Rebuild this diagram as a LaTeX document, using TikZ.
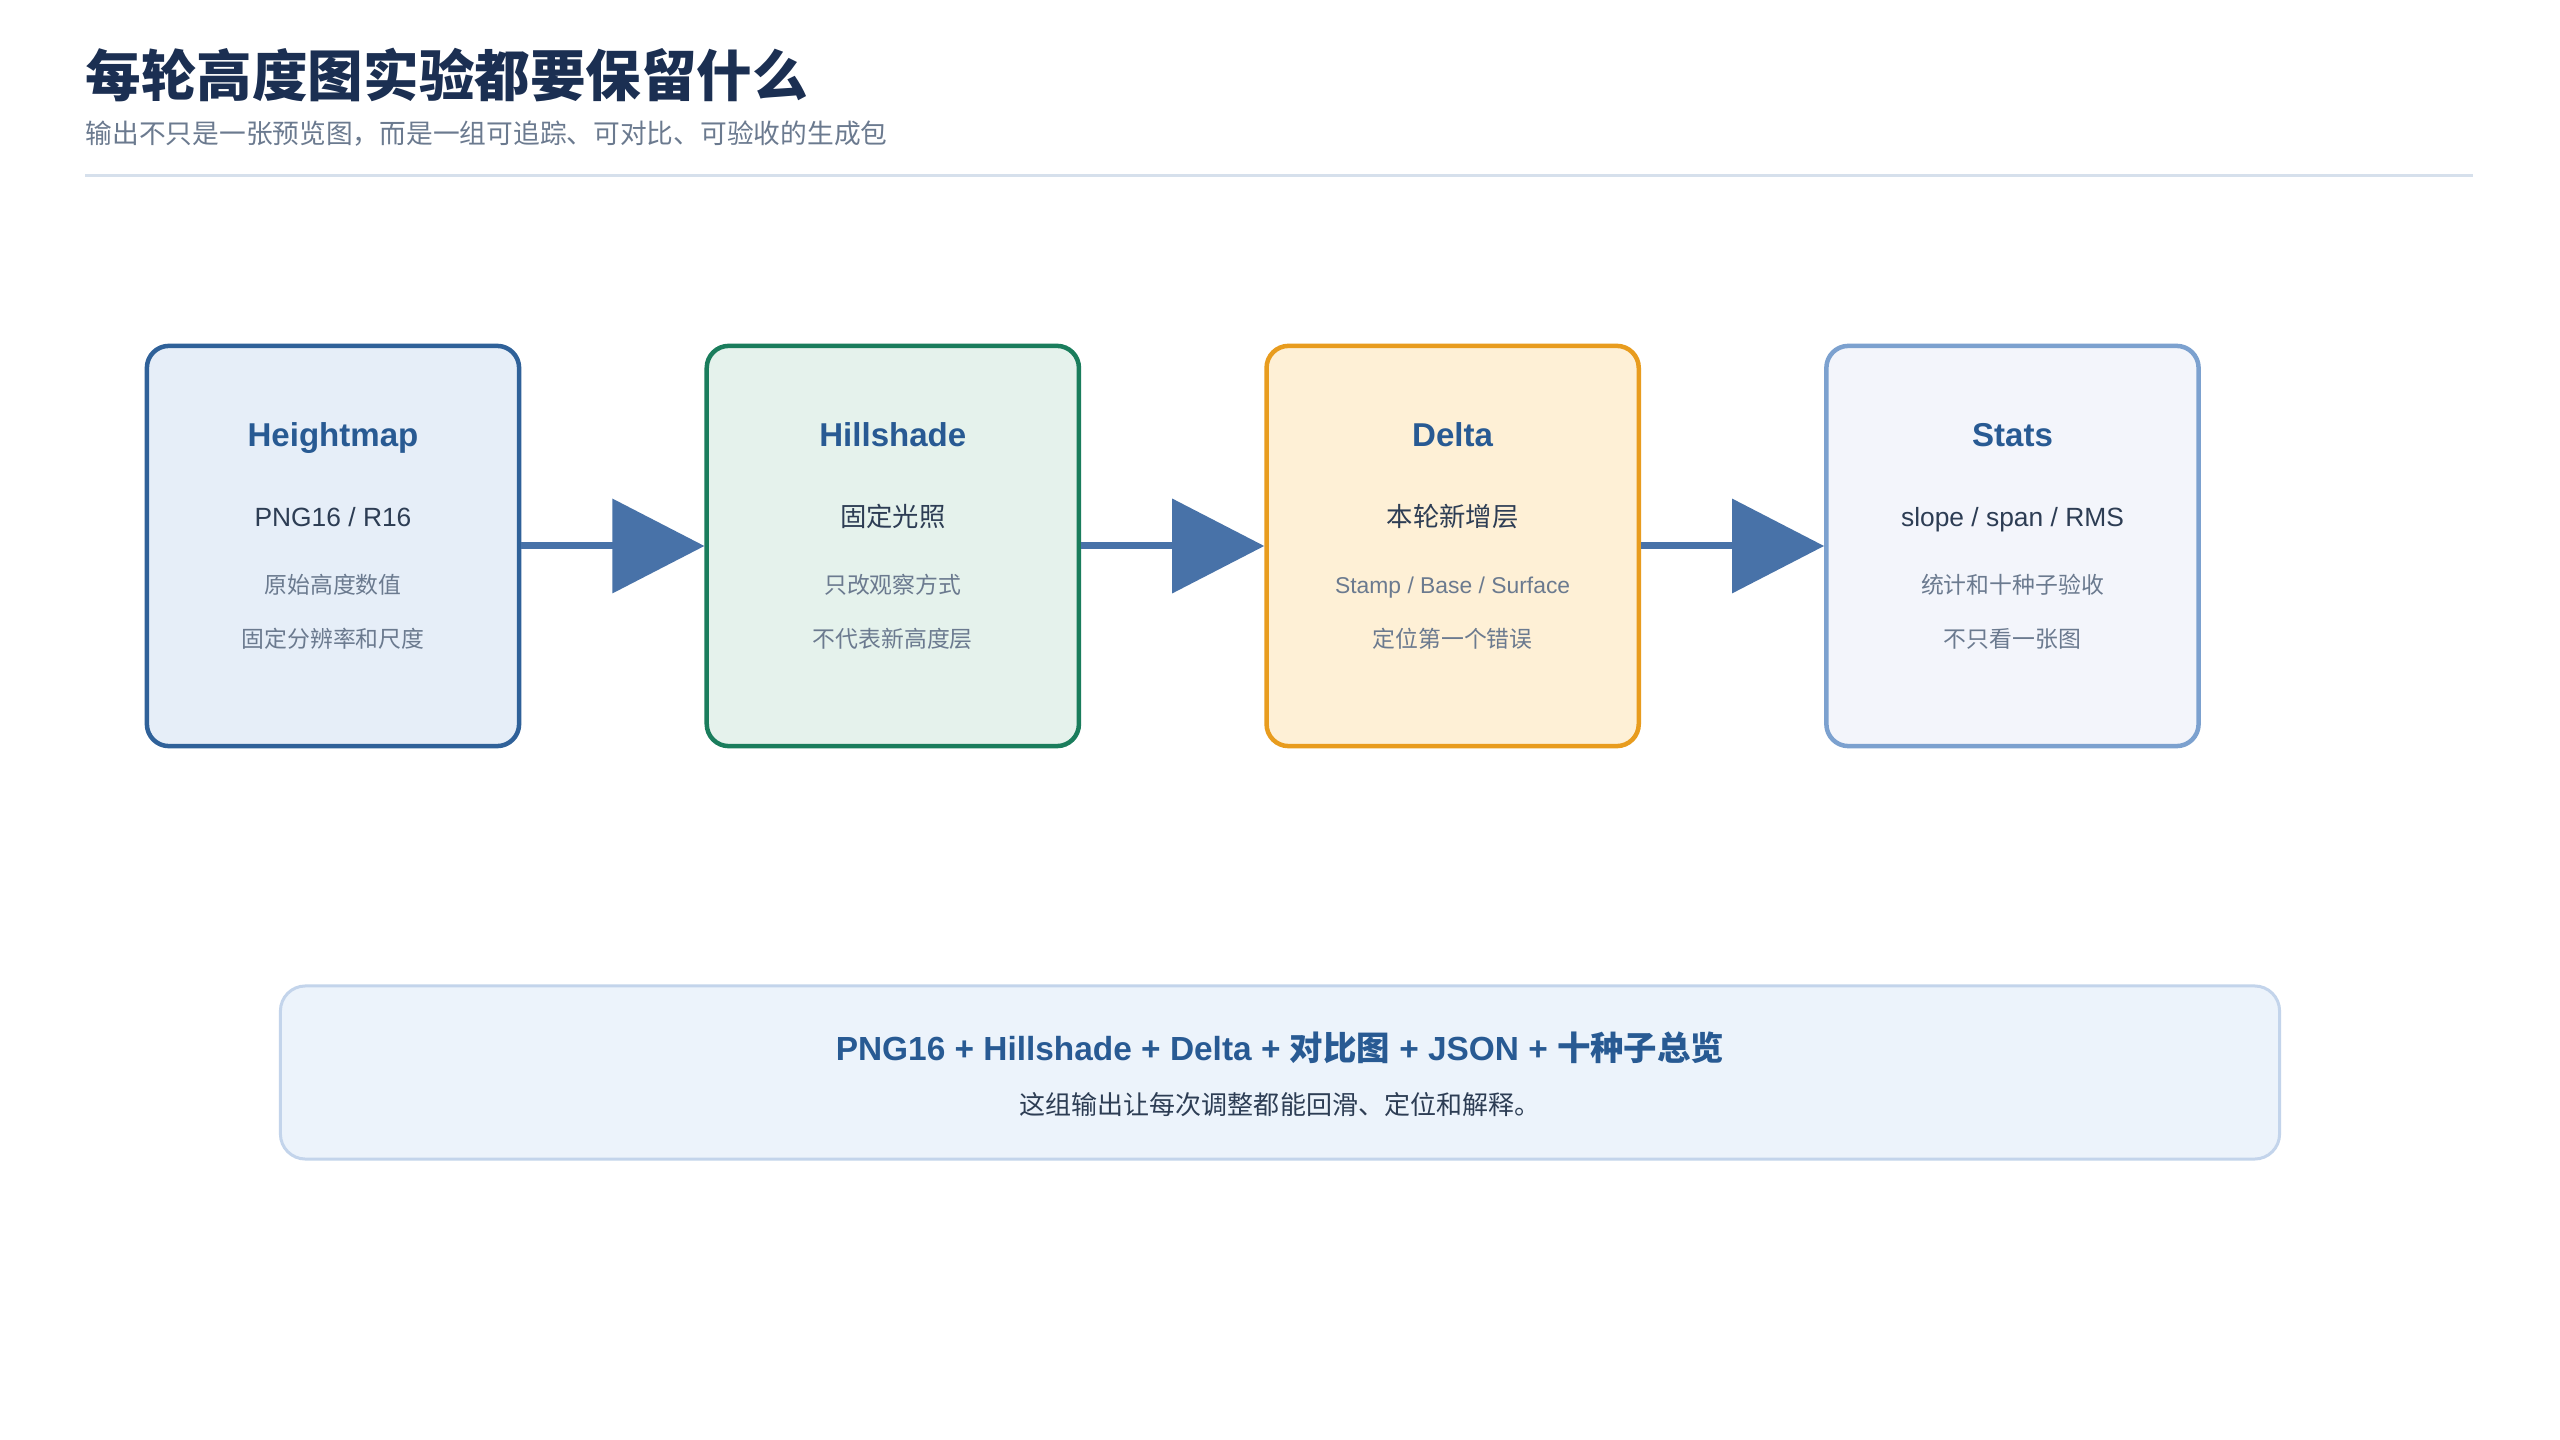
\documentclass[tikz,border=0pt]{standalone}
\usepackage{fontspec}
\setmainfont{Liberation Sans}
\newfontfamily\cjk{Noto Sans CJK SC}
\usepackage{xcolor}
\usetikzlibrary{positioning}
\usetikzlibrary{arrows.meta}

\definecolor{headink}{HTML}{1B2F52}
\definecolor{noteink}{HTML}{6B7A8F}
\definecolor{bodyink}{HTML}{2D3D54}
\definecolor{titleblue}{HTML}{285A93}
\definecolor{arrowblue}{HTML}{4872A8}
\definecolor{rulegray}{HTML}{D6E0EC}
\definecolor{hmfill}{HTML}{E6EEF8}
\definecolor{hmline}{HTML}{2F6199}
\definecolor{hsfill}{HTML}{E5F2EC}
\definecolor{hsline}{HTML}{1A7D5C}
\definecolor{dlfill}{HTML}{FEF0D6}
\definecolor{dlline}{HTML}{E89C1E}
\definecolor{stfill}{HTML}{F3F5FB}
\definecolor{stline}{HTML}{7CA1CF}
\definecolor{packfill}{HTML}{ECF3FB}
\definecolor{packline}{HTML}{C3D4EB}

\tikzset{
  stage/.style={draw, rounded corners=0.22cm, line width=0.045cm, minimum width=3.72cm, minimum height=4cm},
  flow/.style={draw=arrowblue, line width=0.07cm, -{Triangle[length=0.92cm,width=0.93cm]}},
  stagetitle/.style={anchor=base, text=titleblue, font=\fontsize{9.4}{11}\selectfont\bfseries},
  stagemain/.style={anchor=base, text=bodyink, font=\fontsize{7.5}{9}\selectfont},
  stagenote/.style={anchor=base, text=noteink, font=\fontsize{6.5}{8}\selectfont},
}

\begin{document}
\begin{tikzpicture}[x=0.01cm, y=0.01cm]
\useasboundingbox[fill=white] (0,0) rectangle (2560,-1440);

% heading
\node[anchor=west, inner sep=0, text=headink, font=\cjk\fontsize{15.8}{18}\selectfont\bfseries] (head) at (85,-75) {每轮高度图实验都要保留什么};
\node[anchor=west, inner sep=0, text=noteink, font=\cjk\fontsize{7.6}{9}\selectfont] (sub) at (85,-134) {输出不只是一张预览图，而是一组可追踪、可对比、可验收的生成包};
\coordinate (rulel) at (85,-176);
\coordinate (ruler) at (2473,-176);
\draw [rulegray, line width=0.03cm] (rulel) -- (ruler);

% stages
\node [stage, fill=hmfill, draw=hmline] (hm) at (333,-546) {};
\node [stage, fill=hsfill, draw=hsline, right=1.83cm of hm] (hs) {};
\node [stage, fill=dlfill, draw=dlline, right=1.83cm of hs] (dl) {};
\node [stage, fill=stfill, draw=stline, right=1.83cm of dl] (st) {};

\node [stagetitle, at=(hm.north), yshift=-1.03cm] (hm-title) {Heightmap};
\node [stagemain, at=(hm.north), yshift=-1.83cm] (hm-main) {PNG16 / R16};
\node [stagenote, at=(hm.north), yshift=-2.50cm] (hm-a) {\cjk 原始高度数值};
\node [stagenote, at=(hm.north), yshift=-3.04cm] (hm-b) {\cjk 固定分辨率和尺度};

\node [stagetitle, at=(hs.north), yshift=-1.03cm] (hs-title) {Hillshade};
\node [stagemain, at=(hs.north), yshift=-1.83cm] (hs-main) {\cjk 固定光照};
\node [stagenote, at=(hs.north), yshift=-2.50cm] (hs-a) {\cjk 只改观察方式};
\node [stagenote, at=(hs.north), yshift=-3.04cm] (hs-b) {\cjk 不代表新高度层};

\node [stagetitle, at=(dl.north), yshift=-1.03cm] (dl-title) {Delta};
\node [stagemain, at=(dl.north), yshift=-1.83cm] (dl-main) {\cjk 本轮新增层};
\node [stagenote, at=(dl.north), yshift=-2.50cm] (dl-a) {Stamp / Base / Surface};
\node [stagenote, at=(dl.north), yshift=-3.04cm] (dl-b) {\cjk 定位第一个错误};

\node [stagetitle, at=(st.north), yshift=-1.03cm] (st-title) {Stats};
\node [stagemain, at=(st.north), yshift=-1.83cm] (st-main) {slope / span / RMS};
\node [stagenote, at=(st.north), yshift=-2.50cm] (st-a) {\cjk 统计和十种子验收};
\node [stagenote, at=(st.north), yshift=-3.04cm] (st-b) {\cjk 不只看一张图};

\draw [flow] (hm) -- (hs);
\draw [flow] (hs) -- (dl);
\draw [flow] (dl) -- (st);

% output package
\node [draw=packline, fill=packfill, line width=0.03cm, rounded corners=0.25cm, minimum width=19.98cm, minimum height=1.73cm] (pack) at (1280,-1072.5) {};
\node [stagetitle, font=\fontsize{9.5}{11}\selectfont\bfseries, at=(pack.north), yshift=-0.76cm] (pack-title) {PNG16 + Hillshade + Delta + {\cjk 对比图} + JSON + {\cjk 十种子总览}};
\node [stagemain, font=\cjk\fontsize{7.4}{9}\selectfont, at=(pack.north), yshift=-1.30cm] (pack-note) {这组输出让每次调整都能回滑、定位和解释。};
\end{tikzpicture}
\end{document}
